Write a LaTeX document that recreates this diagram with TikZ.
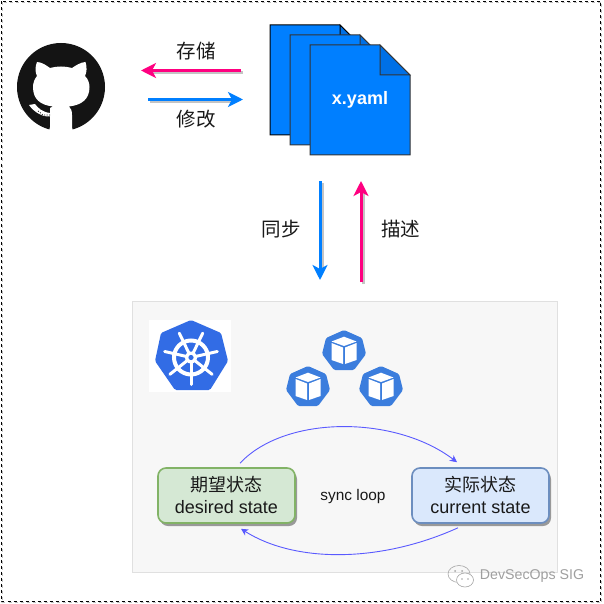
\documentclass[tikz,border=0pt]{standalone}
\usepackage{fontspec}
\setmainfont{Liberation Sans}
\newfontfamily\cjk{Noto Sans CJK SC}
\usetikzlibrary{positioning, arrows.meta, shadows}

\definecolor{docblue}{HTML}{007FFF}
\definecolor{foldblue}{HTML}{0070E6}
\definecolor{arrowpink}{HTML}{FF0080}
\definecolor{shadowgray}{HTML}{C4C4C4}
\definecolor{k8sblue}{HTML}{326CE5}
\definecolor{podblue}{HTML}{3B7DDD}
\definecolor{loopblue}{HTML}{5A5AFF}
\definecolor{desiredfill}{HTML}{D5E8D4}
\definecolor{desiredline}{HTML}{82B366}
\definecolor{currentfill}{HTML}{DAE8FC}
\definecolor{currentline}{HTML}{6C8EBF}

\tikzset{
    label19/.style={font=\fontsize{19.5}{22}\selectfont\cjk, text=black!90, inner sep=0pt},
    fatarrow/.style={line width=3pt, -{Stealth[length=15pt,width=15pt,inset=4pt]}},
    arrowshadow/.style={line width=3pt, shadowgray},
    docpage/.style={fill=docblue, line width=1pt},
    statebox/.style={rounded corners=8pt, line width=1.6pt, minimum width=137pt, minimum height=55pt,
        inner sep=0pt, align=center, font=\fontsize{18}{22}\selectfont, text=black!90,
        drop shadow={shadow xshift=2pt, shadow yshift=-3pt, fill=black!40, opacity=1}},
    looparrow/.style={draw=loopblue, line width=0.9pt, -{Stealth[length=7pt,width=7pt,inset=2pt]}},
}

\begin{document}
\begin{tikzpicture}[x=1pt, y=-1pt]
    \useasboundingbox (0,0) rectangle (603,604);
    % outer frame
    \draw[gray!50, dashed] (2.5,2.5) rectangle (601.5,602.5);
    \draw[black, dashed] (1.5,1.5) rectangle (600.5,601.5);

    % github
    \fill[black!92] (61,87) circle (44);
    \fill[white] (37,62) .. controls (42,62) and (47,66) .. (50,68)
        .. controls (57,66) and (65,66) .. (72,68)
        .. controls (75,66) and (81,62) .. (85.5,62)
        .. controls (87,67) and (87,72) .. (85,76)
        .. controls (88,79) and (89.5,83) .. (89.5,87)
        .. controls (89.5,99) and (82,105) .. (69,106.5)
        .. controls (71,108) and (72,111) .. (72,115)
        -- (72,127) .. controls (72,129) and (73,131) .. (74,133) -- (48,133)
        .. controls (49,131) and (50,129) .. (50,127)
        -- (50,108) -- (53,106.5)
        .. controls (40,105) and (33,99) .. (33,87)
        .. controls (33,83) and (34.5,79) .. (37,76)
        .. controls (35,72) and (35,67) .. (37,62) -- cycle;
    \fill[white] (29,105) -- (35,104) .. controls (38,108) and (42,112) .. (50,113)
        -- (50,116.5) .. controls (42,117) and (34,112) .. (29,105) -- cycle;
    \draw[black!92, line width=0.8pt, dash pattern=on 1pt off 1.5pt] (38,111) -- (43,115) -- (50,115);

    % files
    \foreach \docx/\docy/\edge in {270/25/black, 290/35/black!80, 310/45/black!80}{
        \draw[docpage, draw=\edge] (\docx,\docy) -- ++(70,0) -- ++(30,30) -- ++(0,80) -- ++(-100,0) -- cycle;
        \draw[docpage, draw=\edge, fill=foldblue] (\docx+70,\docy) -- ++(30,30) -- ++(-30,0) -- cycle;
    }
    \node[text=white, inner sep=0pt, font=\fontsize{18}{22}\selectfont\bfseries] (yamlname) at (360,100) {x.yaml};

    % arrows at the top
    \coordinate (saveA) at (241,70.5);
    \coordinate (saveB) at (141,70.5);
    \coordinate (editA) at (148,99.5);
    \coordinate (editB) at (243,99.5);
    \coordinate (syncA) at (320,181);
    \coordinate (syncB) at (320,280);
    \coordinate (descA) at (361,282);
    \coordinate (descB) at (361,181);
    \draw[arrowshadow] ([shift={(2,2.5)}]saveA) -- ([shift={(12,2.5)}]saveB);
    \draw[arrowshadow] ([shift={(2,2.5)}]editA) -- ([shift={(-10,2.5)}]editB);
    \draw[arrowshadow] ([shift={(2,2)}]syncA) -- ([shift={(2,-12)}]syncB);
    \draw[arrowshadow] ([shift={(2.5,2)}]descA) -- ([shift={(2.5,12)}]descB);
    \draw[fatarrow, arrowpink] (saveA) -- (saveB);
    \draw[fatarrow, docblue] (editA) -- (editB);
    \draw[fatarrow, docblue] (syncA) -- (syncB);
    \draw[fatarrow, arrowpink] (descA) -- (descB);
    \node[label19] (savetext) at (196,51) {存储};
    \node[label19] (edittext) at (196,119) {修改};
    \node[label19] (synctext) at (281,229) {同步};
    \node[label19] (desctext) at (400.5,229) {描述};

    % cluster
    \draw[draw=black!12, fill=black!3, line width=1pt] (132,301) rectangle (557,572);

    % wheel
    \fill[white] (149,320) rectangle (231,392);
    \fill[k8sblue, rounded corners=1.5pt] (191,320) -- (221,333) -- (228,361) -- (210,390) -- (175,390) -- (155,361) -- (161,333) -- cycle;
    \draw[white, line width=4pt] (191,357.5) circle (17);
    \fill[white] (191,357.5) circle (6);
    \fill[k8sblue] (191,357.5) circle (2.6);
    \foreach \spoke in {0,...,6}{
        \draw[white, line width=3pt, line cap=round] ([shift={(90+\spoke*360/7:5)}]191,357.5) -- ([shift={(90+\spoke*360/7:27)}]191,357.5);
    }

    % pods
    \foreach \podx/\pody in {344/330, 308/366, 381/366}{
        \begin{scope}[shift={(\podx,\pody)}]
            \fill[podblue, rounded corners=1.5pt] (0,0) -- (18,8) -- (22,24) -- (10,40) -- (-10,40) -- (-22,24) -- (-18,8) -- cycle;
            \fill[white] (0,6.7) -- (12.5,11.5) -- (0,16) -- (-12.5,11.5) -- cycle;
            \fill[white] (-12.5,13) -- (-1,17.5) -- (-1,34) -- (-12.5,30) -- cycle;
            \fill[white] (12.5,13) -- (1,17.5) -- (1,34) -- (12.5,30) -- cycle;
        \end{scope}
    }

    % state boxes
    \node[statebox, draw=desiredline, fill=desiredfill] (desired) at (226.5,495.5) {\raisebox{2pt}{\cjk 期望状态}\\\raisebox{2pt}{desired state}};
    \node[statebox, draw=currentline, fill=currentfill] (current) at (480.5,495.5) {\raisebox{2pt}{\cjk 实际状态}\\\raisebox{2pt}{current state}};
    \node[font=\fontsize{15.4}{18}\selectfont, text=black!90, inner sep=0pt] (looptext) at (353,496.5) {sync loop};
    \draw[looparrow] ([shift={(13.5,-4)}]desired.north) .. controls (285,415) and (395,415) .. ([shift={(-23.5,-5)}]current.north);
    \draw[looparrow] ([shift={(-22.5,4)}]current.south) .. controls (380,563) and (295,563) .. ([shift={(14.5,5)}]desired.south);

    % watermark
    \draw[gray!70, line width=0.6pt] (459,574) ellipse (11 and 8.5);
    \draw[gray!70, line width=0.6pt, fill=white] (465,580) ellipse (8.5 and 7);
    \fill[gray!70] (455,571) circle (1) (462,571) circle (1) (462,579) circle (0.8) (468,579) circle (0.8);
    \node[font=\fontsize{14.2}{16}\selectfont, text=gray!75, inner sep=0pt] (marktext) at (532,576) {DevSecOps SIG};
\end{tikzpicture}
\end{document}
